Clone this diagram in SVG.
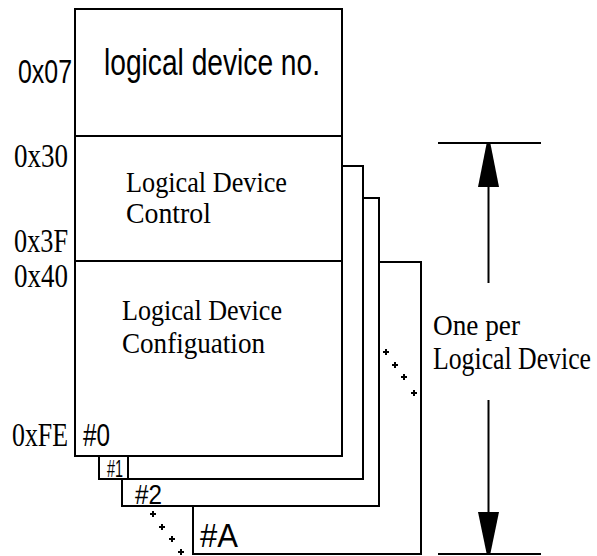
<svg xmlns="http://www.w3.org/2000/svg" width="597" height="556" viewBox="0 0 597 556">
  <style>
    .box { fill: #ffffff; stroke: #000000; stroke-width: 2; }
    .ln { fill: none; stroke: #000000; stroke-width: 2; }
    .dot { fill: none; stroke: #000000; stroke-width: 2; }
    .sans { font-family: "Liberation Sans", Arial, sans-serif; fill: #000000; }
    .serif { font-family: "Liberation Serif", "Times New Roman", serif; fill: #000000; }
  </style>
  <defs>
    <path id="plus" d="M-3,0 H3 M0,-3 V3" class="dot"/>
  </defs>
  <rect width="597" height="556" fill="#ffffff"/>

  <g id="box-A">
    <rect class="box" x="193" y="262" width="228" height="292"/>
    <text class="sans" x="200" y="547" font-size="34" textLength="38" lengthAdjust="spacingAndGlyphs">#A</text>
  </g>
  <g id="box-2">
    <rect class="box" x="122" y="198" width="257" height="308"/>
    <text class="sans" x="135" y="504" font-size="28" textLength="27" lengthAdjust="spacingAndGlyphs">#2</text>
  </g>
  <g id="box-1">
    <rect class="box" x="99" y="166" width="264" height="313"/>
    <line class="ln" x1="128" y1="456" x2="128" y2="479"/>
    <text class="sans" x="107" y="477" font-size="24" textLength="16" lengthAdjust="spacingAndGlyphs">#1</text>
  </g>
  <g id="box-0">
    <rect class="box" x="75" y="9" width="267" height="447"/>
    <line class="ln" x1="75" y1="136" x2="342" y2="136"/>
    <line class="ln" x1="75" y1="261" x2="342" y2="261"/>
    <text class="sans" x="104" y="75" font-size="36" textLength="216" lengthAdjust="spacingAndGlyphs">logical device no.</text>
    <text class="serif" x="126" y="192" font-size="30" textLength="161" lengthAdjust="spacingAndGlyphs">Logical Device</text>
    <text class="serif" x="126" y="223" font-size="30" textLength="85" lengthAdjust="spacingAndGlyphs">Control</text>
    <text class="serif" x="122" y="320" font-size="30" textLength="160" lengthAdjust="spacingAndGlyphs">Logical Device</text>
    <text class="serif" x="122" y="353" font-size="30" textLength="143" lengthAdjust="spacingAndGlyphs">Configuation</text>
    <text class="sans" x="83" y="446" font-size="32" textLength="27" lengthAdjust="spacingAndGlyphs">#0</text>
  </g>

  <g id="addresses">
    <text class="sans" x="18" y="83" font-size="34" textLength="54" lengthAdjust="spacingAndGlyphs">0x07</text>
    <text class="serif" x="14" y="167" font-size="34" textLength="54" lengthAdjust="spacingAndGlyphs">0x30</text>
    <text class="serif" x="14" y="252" font-size="34" textLength="54" lengthAdjust="spacingAndGlyphs">0x3F</text>
    <text class="serif" x="14" y="287" font-size="34" textLength="54" lengthAdjust="spacingAndGlyphs">0x40</text>
    <text class="serif" x="12" y="446" font-size="34" textLength="56" lengthAdjust="spacingAndGlyphs">0xFE</text>
  </g>

  <g id="ellipses">
    <use href="#plus" x="153" y="514"/>
    <use href="#plus" x="162" y="527"/>
    <use href="#plus" x="172" y="539"/>
    <use href="#plus" x="181" y="552"/>
    <use href="#plus" x="386" y="352"/>
    <use href="#plus" x="395" y="365"/>
    <use href="#plus" x="404" y="377"/>
    <use href="#plus" x="414" y="393"/>
  </g>

  <g id="connectors">
    <line class="ln" x1="438" y1="143" x2="541" y2="143"/>
    <line class="ln" x1="438" y1="554" x2="541" y2="554"/>
    <line class="ln" x1="488.5" y1="187" x2="488.5" y2="283"/>
    <line class="ln" x1="488.5" y1="400" x2="488.5" y2="512"/>
    <polygon points="486.5,144 490.5,144 499,187 478,187" fill="#000000"/>
    <polygon points="486.5,553 490.5,553 499,512 478,512" fill="#000000"/>
  </g>

  <g id="dimension-label">
    <text class="serif" x="433" y="335" font-size="30" textLength="87" lengthAdjust="spacingAndGlyphs">One per</text>
    <text class="serif" transform="translate(433,369) scale(1,1.2)" x="0" y="0" font-size="26" textLength="158" lengthAdjust="spacingAndGlyphs">Logical Device</text>
  </g>
</svg>
